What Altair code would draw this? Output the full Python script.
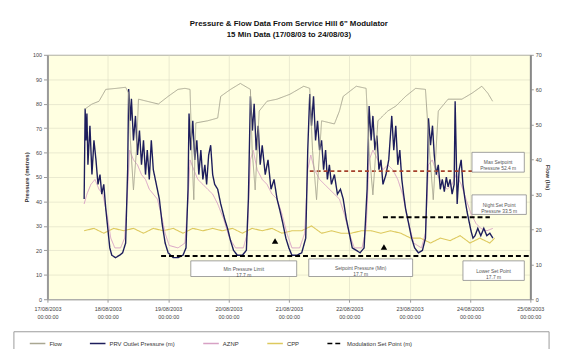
import altair as alt
import pandas as pd

TITLE = ['Pressure & Flow Data From Service Hill 6" Modulator',
         '15 Min Data (17/08/03 to 24/08/03)']
SERIES = ["Flow", "PRV Outlet Pressure (m)", "AZNP", "CPP", "Modulation Set Point (m)"]
COLORS = ["#a9a792", "#1d1d5c", "#d7a1c4", "#ddc95e", "#000000"]
DASHES = [[1, 0], [1, 0], [1, 0], [1, 0], [5, 3]]

# (hours after 17/08/2003 00:00, flow l/s)
FLOW = [(15.0, 54.5), (17.7, 55.9), (20.5, 56.7), (23.2, 60.1), (27.5, 60.4), (31.1, 60.7),
        (32.3, 59.0), (33.0, 45.4), (34.2, 31.3), (35.4, 42.6), (36.2, 57.3), (44.1, 55.9),
        (48.0, 58.1), (51.9, 60.1), (54.7, 60.4), (56.7, 60.1), (57.4, 42.6), (58.2, 28.5),
        (59.0, 50.5), (63.7, 51.1), (67.7, 51.9), (68.9, 58.1), (72.8, 60.1), (76.7, 61.8),
        (80.7, 60.1), (81.4, 42.6), (82.6, 31.3), (84.2, 53.9), (87.3, 56.7), (91.3, 57.3),
        (96.4, 58.7), (101.9, 61.0), (104.3, 60.4), (105.4, 42.6), (107.0, 28.5), (109.0, 51.1),
        (114.1, 50.2), (116.1, 53.9), (117.6, 58.1), (122.8, 61.0), (126.7, 60.4), (127.9, 42.6),
        (129.4, 29.9), (131.4, 51.1), (135.3, 53.9), (138.5, 55.3), (142.4, 58.1), (146.4, 60.4),
        (150.3, 60.1), (151.9, 42.6), (153.4, 28.5), (155.4, 53.9), (159.3, 57.3), (164.8, 57.3),
        (168.8, 59.0), (172.7, 61.0), (175.1, 59.0), (177.0, 56.7)]

# (hours, pressure m)
OUTLET = [(14.6, 41), (15.0, 78), (15.3, 65), (15.7, 76), (16.1, 55), (16.9, 71), (17.7, 51),
          (18.5, 65), (19.3, 57), (20.1, 47), (20.9, 51), (21.6, 43), (22.4, 47), (23.2, 37),
          (24.0, 29), (24.8, 21), (25.6, 18), (27.1, 17), (28.7, 18), (29.9, 19), (31.1, 23),
          (31.9, 53), (32.3, 86), (33.0, 73), (33.4, 82), (34.2, 65), (35.0, 75), (35.8, 59),
          (36.6, 69), (37.4, 55), (38.2, 65), (39.0, 51), (39.7, 61), (40.5, 49), (41.3, 65),
          (42.1, 53), (43.3, 47), (44.5, 41), (45.6, 31), (46.8, 23), (48.0, 19), (50.0, 17),
          (51.9, 17), (53.9, 18), (55.1, 21), (55.9, 45), (56.3, 76), (57.0, 61), (57.8, 73),
          (58.6, 57), (59.4, 65), (60.2, 51), (61.0, 61), (61.8, 49), (62.6, 55), (63.3, 47),
          (64.1, 59), (64.9, 63), (65.7, 51), (66.5, 47), (67.7, 45), (68.9, 39), (70.4, 33),
          (71.6, 29), (72.8, 24), (74.0, 20), (75.5, 18), (77.5, 18), (79.1, 20), (79.9, 41),
          (80.7, 83), (81.5, 69), (82.2, 80), (83.0, 61), (83.8, 71), (84.6, 55), (85.4, 63),
          (86.6, 51), (87.7, 57), (88.9, 45), (90.1, 49), (91.3, 41), (92.5, 36), (93.6, 31),
          (94.8, 25), (96.0, 21), (97.2, 18), (99.2, 18), (101.1, 19), (102.7, 25), (103.5, 61),
          (104.3, 84), (105.0, 71), (105.8, 83), (106.6, 65), (107.4, 73), (108.2, 61), (109.0, 65),
          (109.8, 53), (110.6, 61), (111.3, 49), (112.1, 55), (112.9, 47), (114.1, 51), (115.3, 43),
          (116.5, 45), (117.6, 41), (118.8, 33), (120.0, 27), (121.2, 21), (122.8, 20), (124.3, 19),
          (125.9, 21), (127.1, 45), (127.9, 79), (128.7, 65), (129.4, 75), (130.2, 61), (131.0, 67),
          (131.8, 53), (132.6, 57), (133.4, 47), (134.6, 51), (135.7, 57), (136.9, 75), (137.7, 61),
          (138.5, 71), (139.3, 55), (140.1, 61), (140.9, 49), (141.6, 43), (142.4, 37), (143.6, 31),
          (144.8, 25), (146.0, 21), (147.5, 19), (149.1, 20), (150.3, 25), (151.1, 53), (151.5, 74),
          (152.3, 63), (153.1, 71), (153.8, 59), (154.6, 51), (155.4, 55), (156.2, 45), (157.0, 49),
          (157.8, 44), (158.6, 50), (159.3, 46), (160.1, 49), (160.9, 43), (161.7, 47), (162.1, 81),
          (162.5, 61), (162.9, 39), (163.7, 53), (164.5, 57), (165.2, 47), (166.0, 41), (166.8, 36),
          (167.6, 32), (168.4, 28), (169.2, 25), (170.0, 26), (171.1, 29), (172.3, 26), (173.5, 29),
          (174.7, 26), (175.9, 27), (177.1, 25)]

AZNP = [(14.6, 39), (15.7, 43), (17.3, 47), (18.9, 49), (20.5, 45), (22.0, 43), (23.6, 35),
        (25.2, 25), (26.8, 21), (29.1, 21), (30.7, 25), (31.9, 45), (32.7, 61), (34.2, 57),
        (35.8, 55), (37.4, 51), (39.0, 49), (40.5, 45), (42.1, 43), (43.7, 41), (45.2, 35),
        (46.8, 27), (48.4, 22), (51.9, 21), (54.7, 23), (55.9, 41), (56.7, 57), (58.2, 53),
        (59.8, 49), (61.8, 47), (63.7, 45), (65.7, 43), (67.7, 39), (70.0, 33), (72.4, 25),
        (74.8, 21), (77.9, 21), (79.5, 27), (80.7, 57), (81.8, 61), (83.4, 53), (85.4, 49),
        (87.3, 47), (89.3, 43), (91.3, 41), (93.2, 35), (95.2, 27), (97.2, 21), (100.3, 21),
        (102.3, 27), (103.5, 53), (104.7, 59), (106.2, 53), (108.2, 49), (110.2, 47), (112.1, 45),
        (114.1, 43), (116.1, 41), (118.0, 35), (120.0, 27), (122.0, 21), (125.1, 21), (126.7, 29),
        (127.9, 57), (129.4, 61), (131.4, 57), (133.4, 53), (135.3, 55), (137.3, 53), (139.3, 49),
        (141.2, 43), (143.2, 33), (145.6, 23), (148.7, 21), (150.3, 27), (151.5, 55), (153.0, 57),
        (155.0, 51), (157.0, 47), (159.0, 45), (160.9, 47), (162.5, 51), (164.5, 47), (166.4, 41),
        (168.4, 35), (170.4, 31), (172.3, 29), (174.7, 28), (177.1, 29)]

CPP = [(14.6, 28), (18.5, 29), (22.4, 27), (26.4, 29), (30.3, 28), (34.2, 29), (38.2, 27),
       (42.1, 29), (46.0, 28), (50.0, 29), (53.9, 27), (57.8, 29), (61.8, 28), (65.7, 29),
       (69.6, 28), (73.6, 29), (77.5, 27), (81.4, 29), (85.4, 28), (89.3, 29), (93.2, 27),
       (97.2, 28), (101.1, 28), (105.0, 30), (109.0, 27), (112.9, 28), (116.8, 27), (120.8, 27),
       (124.7, 28), (128.7, 28), (132.6, 27), (136.5, 28), (140.5, 27), (144.4, 25), (148.3, 25),
       (152.3, 23), (156.2, 25), (160.1, 24), (164.1, 26), (168.0, 23), (171.9, 25), (175.9, 23),
       (177.8, 25)]

# (segment, hours, m)
SETPOINT = [(1, 45.2, 17.7), (1, 192.0, 17.7), (2, 133.4, 33.5), (2, 175.9, 33.5)]
MAX_LIMIT = [(104.3, 52.4), (169.2, 52.4)]
MARKERS = [(90.5, 23.8), (133.8, 21.4)]
# (start h, end h, low m, high m, text)
BOXES = [(57.0, 99.1, 9.3, 15.7, "Min Pressure Limit\n17.7 m"),
         (103.9, 145.2, 9.3, 16.5, "Setpoint Pressure (Min)\n17.7 m"),
         (165.2, 189.6, 7.7, 15.7, "Lower Set Point\n17.7 m"),
         (168.8, 189.6, 52.0, 60.1, "Max Setpoint\nPressure 52.4 m"),
         (168.8, 190.4, 34.7, 42.7, "Night Set Point\nPressure 33.5 m")]

BASE = pd.Timestamp("2003-08-17")


def to_time(hours):
    return BASE + pd.to_timedelta(pd.Series(hours, dtype=float), unit="h")


def series_df(pairs, name):
    df = pd.DataFrame(pairs, columns=["hours", "value"])
    df["time"] = to_time(df["hours"])
    df["series"] = name
    return df[["time", "value", "series"]]


flow_df = series_df(FLOW, SERIES[0])
outlet_df = series_df(OUTLET, SERIES[1])
aznp_df = series_df(AZNP, SERIES[2])
cpp_df = series_df(CPP, SERIES[3])

sp_df = pd.DataFrame(SETPOINT, columns=["seg", "hours", "value"])
sp_df["time"] = to_time(sp_df["hours"])
sp_df["series"] = SERIES[4]
sp_df = sp_df[["seg", "time", "value", "series"]]

max_df = pd.DataFrame(MAX_LIMIT, columns=["hours", "value"])
max_df["time"] = to_time(max_df["hours"])
max_df = max_df[["time", "value"]]

mk_df = pd.DataFrame(MARKERS, columns=["hours", "value"])
mk_df["time"] = to_time(mk_df["hours"])
mk_df = mk_df[["time", "value"]]

bx = pd.DataFrame(BOXES, columns=["h0", "h1", "v0", "v1", "label"])
box_df = pd.DataFrame({"time": to_time(bx["h0"]), "time2": to_time(bx["h1"]),
                       "value": bx["v0"], "value2": bx["v1"]})
txt_df = pd.DataFrame({"time": to_time((bx["h0"] + bx["h1"]) / 2),
                       "value": (bx["v0"] + bx["v1"]) / 2, "label": bx["label"]})

GRID = "#dcdcc4"
x_enc = alt.X(
    "time:T", title=None,
    scale=alt.Scale(domain=[alt.DateTime(year=2003, month=8, date=17),
                            alt.DateTime(year=2003, month=8, date=25)]),
    axis=alt.Axis(tickCount={"interval": "day", "step": 1},
                  labelExpr="[timeFormat(datum.value, '%d/%m/%Y'), timeFormat(datum.value, '%H:%M:%S')]",
                  labelFontSize=5.5, labelColor="#444", labelLineHeight=9, labelPadding=4,
                  tickSize=3, tickColor="#999", domainColor="#aaa", labelFlush=False,
                  labelOverlap=False, grid=True, gridColor=GRID, gridWidth=0.6))

y_left = alt.Y(
    "value:Q", scale=alt.Scale(domain=[0, 100]),
    axis=alt.Axis(orient="left", values=list(range(0, 101, 10)), title="Pressure (metres)",
                  labelFontSize=5.5, labelColor="#444", labelPadding=2, tickSize=4,
                  tickColor="#999", domainColor="#999", domainWidth=2, grid=True,
                  gridColor=GRID, gridWidth=0.6, titleFontSize=6, titleFontWeight="bold",
                  titleColor="#333", titlePadding=3))

y_right = alt.Y(
    "value:Q", scale=alt.Scale(domain=[0, 70]),
    axis=alt.Axis(orient="right", values=list(range(0, 71, 10)), title="Flow (l/s)",
                  labelFontSize=5.5, labelColor="#444", labelPadding=2, tickSize=3,
                  tickColor="#999", domainColor="#888", domainWidth=2, grid=False,
                  titleFontSize=6, titleFontWeight="bold", titleColor="#333", titlePadding=3))

legend = alt.Legend(orient="none", legendX=-19, legendY=284, direction="horizontal",
                    symbolType="stroke", symbolSize=250, symbolStrokeWidth=1.5,
                    labelFontSize=6, labelColor="#333", columnPadding=25, padding=0,
                    labelOffset=3)
color_enc = alt.Color("series:N", title=None, legend=legend,
                      scale=alt.Scale(domain=SERIES, range=COLORS))
dash_enc = alt.StrokeDash("series:N", title=None, legend=legend,
                          scale=alt.Scale(domain=SERIES, range=DASHES))


def line_layer(df, width=1.0):
    return alt.Chart(df).mark_line(strokeWidth=width).encode(
        x=x_enc, y=y_left, color=color_enc, strokeDash=dash_enc)


frame = alt.Chart(pd.DataFrame({"a": [0]})).mark_rect(
    fill="white", stroke="#9a9a9a", strokeWidth=1).encode(
    x=alt.value(-34), x2=alt.value(509), y=alt.value(281), y2=alt.value(300))

cpp_line = line_layer(cpp_df, 1.1)
aznp_line = line_layer(aznp_df, 1.0)
outlet_line = line_layer(outlet_df, 1.4)
sp_line = alt.Chart(sp_df).mark_line(strokeWidth=2).encode(
    x=x_enc, y=y_left, color=color_enc, strokeDash=dash_enc, detail="seg:N")
max_line = alt.Chart(max_df).mark_line(color="#a5402c", strokeWidth=1.6,
                                       strokeDash=[4, 3]).encode(x=x_enc, y=y_left)
markers = alt.Chart(mk_df).mark_point(shape="triangle-up", filled=True, color="black",
                                      size=42, opacity=1).encode(x=x_enc, y=y_left)
boxes = alt.Chart(box_df).mark_rect(fill="white", stroke="#8a8a8a", strokeWidth=0.8).encode(
    x=x_enc, x2="time2:T", y=y_left, y2="value2:Q")
texts = alt.Chart(txt_df).mark_text(fontSize=5, color="#555", lineBreak="\n",
                                    lineHeight=6).encode(x=x_enc, y=y_left, text="label:N")

left = alt.layer(frame, cpp_line, aznp_line, outlet_line, sp_line, max_line, markers,
                 boxes, texts)
right = alt.Chart(flow_df).mark_line(strokeWidth=1).encode(
    x=x_enc, y=y_right, color=color_enc, strokeDash=dash_enc)

chart = alt.layer(left, right).resolve_scale(y="independent").properties(
    width=490, height=248,
    padding={"left": 40, "top": 45, "right": 24, "bottom": 48},
    autosize=alt.AutoSizeParams(type="none"),
    title=alt.TitleParams(text=TITLE, fontSize=8, fontWeight="bold", anchor="middle",
                          offset=14, lineHeight=11, color="#111"),
    background="white",
).configure(font="Liberation Sans").configure_view(
    fill="#ffffe1", stroke="#9a9a9a", strokeWidth=1)

chart.save("out.html", embed_options={"renderer": "svg", "actions": False})
